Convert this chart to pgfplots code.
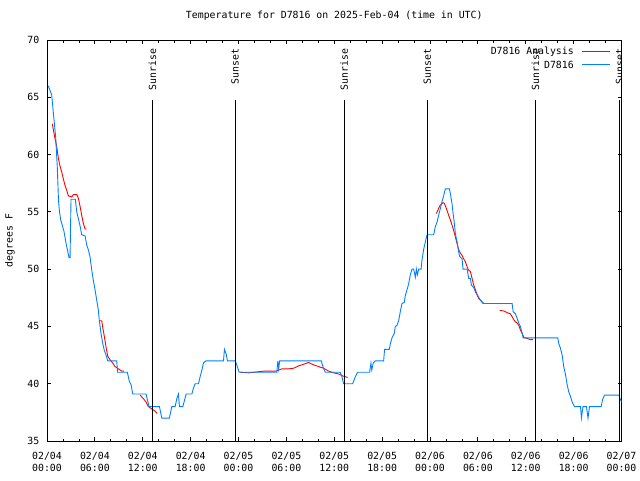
\documentclass[border=0pt]{standalone}
\usepackage{fontspec}
\setmainfont{DejaVu Sans Mono}
\usepackage{pgfplots}
\pgfplotsset{compat=1.18}
\newcommand\gfont{\fontsize{9.85}{12.5}\selectfont}
\definecolor{obsblue}{RGB}{0,128,255}

\begin{document}
\begin{tikzpicture}
  \begin{axis}[
      at={(0,0)}, anchor=south west,
      scale only axis, width=574.5pt, height=401pt,
      xmin=0, xmax=72, ymin=35, ymax=70,
      xtick={0,6,...,72}, minor x tick num=2,
      xticklabels={{02/04\\00:00},{02/04\\06:00},{02/04\\12:00},{02/04\\18:00},
        {02/05\\00:00},{02/05\\06:00},{02/05\\12:00},{02/05\\18:00},
        {02/06\\00:00},{02/06\\06:00},{02/06\\12:00},{02/06\\18:00},{02/07\\00:00}},
      ytick={35,40,...,70},
      /pgf/number format/assume math mode=true,
      tick align=inside, major tick length=4pt, minor tick length=2.5pt,
      every tick/.style={black, line width=0.8pt},
      axis line style={line width=0.8pt},
      xticklabel style={align=center, anchor=north, inner sep=0pt, yshift=-10.5pt, font=\gfont},
      yticklabel style={anchor=east, inner sep=0pt, xshift=-7.5pt, font=\gfont},
      title={Temperature for D7816 on 2025-Feb-04 (time in UTC)},
      title style={at={(0.5,1)}, anchor=base, inner sep=0pt, yshift=16pt, font=\gfont},
      ylabel={degrees F},
      ylabel style={at={(axis description cs:-0.0645,0.5)}, anchor=center, inner sep=0pt, font=\gfont},
      unbounded coords=jump,
    ]
    % analysis
    \addplot[draw=red, line width=0.9pt] coordinates {
      (0.66,62.7) (1.00,61.4) (1.22,60.7) (1.42,59.7) (1.63,59.0) (1.84,58.5)
      (2.04,57.9) (2.26,57.3) (2.47,56.9) (2.67,56.4) (3.10,56.3) (3.30,56.5)
      (3.73,56.5) (3.93,56.2) (4.14,55.5) (4.35,54.7) (4.55,54.0) (4.77,53.5)
      (4.98,53.5) (5.5,nan)
      (6.56,45.5) (6.86,45.5) (6.99,44.9) (7.19,44.1) (7.40,43.2) (7.61,42.4)
      (7.90,42.1) (8.24,41.8) (8.53,41.5) (8.94,41.3) (9.37,41.1) (9.66,41.1)
      (10.5,nan)
      (11.67,39.0) (12.08,38.7) (12.42,38.4) (12.71,38.0) (13.13,37.8) (13.55,37.6)
      (13.80,37.4) (18,nan)
      (24.21,41.0) (25.25,40.95) (27.22,41.1) (28.73,41.1) (29.44,41.3) (30.27,41.3)
      (30.90,41.35) (31.52,41.55) (32.15,41.7) (32.78,41.85) (33.40,41.65) (34.03,41.5)
      (34.66,41.35) (35.29,41.1) (35.91,40.95) (36.54,40.85) (37.17,40.65) (37.67,40.55)
      (42,nan)
      (48.80,54.85) (49.08,55.3) (49.30,55.6) (49.64,55.8) (49.80,55.75) (50.05,55.3)
      (50.34,54.7) (50.55,54.3) (50.76,53.85) (50.96,53.4) (51.18,52.8) (51.39,52.25)
      (51.59,51.7) (51.81,51.4) (52.02,51.2) (52.22,50.9) (52.43,50.65) (52.65,50.2)
      (52.85,49.9) (53.06,49.8) (53.27,49.2) (53.48,48.6) (53.69,48.2) (53.90,47.75)
      (54.10,47.45) (54.31,47.3) (54.52,47.15) (54.73,47.0) (55.5,nan)
      (56.74,46.4) (57.24,46.35) (57.67,46.2) (58.08,46.1) (58.29,45.85) (58.49,45.6)
      (58.71,45.4) (58.92,45.3) (59.12,45.1) (59.33,44.7) (59.55,44.4) (59.75,44.05)
      (60.17,43.95) (60.59,43.85) (60.93,43.85)
    };
    % observations
    \addplot[draw=obsblue, line width=0.9pt] coordinates {
      (0.16,66.0) (0.59,65.2) (0.79,63.7) (1.09,61.5) (1.29,58.9) (1.44,56.0)
      (1.57,55.0) (1.72,54.3) (1.92,53.8) (2.13,53.3) (2.35,52.4) (2.55,51.7)
      (2.76,51.0) (2.89,51.0) (3.01,56.1) (3.55,56.1) (3.73,55.0) (3.93,54.4)
      (4.14,53.8) (4.35,53.0) (4.77,52.9) (4.98,52.1) (5.18,51.7) (5.39,51.1)
      (5.61,49.9) (5.81,49.0) (6.02,48.2) (6.23,47.3) (6.44,46.4) (6.56,45.5)
      (6.77,44.4) (6.99,43.5) (7.19,42.9) (7.40,42.5) (7.61,42.0) (8.74,42.0)
      (8.84,41.0) (10.07,41.0) (10.32,40.2) (10.54,39.9) (10.75,39.1) (12.42,39.1)
      (12.58,38.6) (12.79,38.0) (14.09,38.0) (14.39,37.0) (15.34,37.0) (15.64,38.0)
      (16.06,38.0) (16.27,38.7) (16.47,39.1) (16.60,38.0) (17.02,38.0) (17.44,39.1)
      (18.15,39.1) (18.35,39.6) (18.56,40.0) (18.98,40.0) (19.19,40.6) (19.41,41.2)
      (19.61,41.8) (19.91,42.0) (22.12,42.0) (22.24,43.0) (22.45,42.6) (22.62,42.0)
      (23.58,42.0) (23.80,41.6) (24.08,41.0) (28.81,41.0) (28.93,42.0) (29.03,41.3)
      (29.16,42.0) (34.37,42.0) (34.58,41.5) (34.87,41.0) (36.75,41.0) (36.97,40.6)
      (37.17,40.0) (38.31,40.0) (38.63,40.6) (38.92,41.0) (40.43,41.0) (40.60,41.8)
      (40.70,41.2) (40.89,41.8) (41.14,42.0) (42.19,42.0) (42.31,43.0) (42.90,43.0)
      (43.03,43.5) (43.24,44.0) (43.53,44.4) (43.65,45.0) (43.87,45.1) (44.07,45.5)
      (44.28,46.3) (44.49,47.0) (44.78,47.1) (44.91,47.7) (45.12,48.2) (45.32,48.7)
      (45.53,49.5) (45.75,50.0) (45.95,50.0) (46.16,49.3) (46.29,50.0) (46.41,49.5)
      (46.58,50.0) (46.88,50.0) (47.00,50.8) (47.20,51.7) (47.42,52.4) (47.63,53.0)
      (48.46,53.0) (48.67,53.7) (48.88,54.1) (49.08,54.7) (49.30,55.3) (49.51,55.9)
      (49.71,56.4) (49.92,57.0) (50.43,57.0) (50.55,56.6) (50.76,55.7) (50.89,54.9)
      (51.05,54.0) (51.18,53.1) (51.39,52.4) (51.59,51.5) (51.72,51.1) (52.02,50.9)
      (52.14,50.0) (52.65,50.0) (52.85,49.2) (53.06,49.2) (53.19,48.6) (53.48,48.4)
      (53.69,48.0) (53.98,47.7) (54.31,47.3) (54.65,47.0) (58.29,47.0) (58.42,46.3)
      (58.71,46.1) (58.92,45.7) (59.12,45.3) (59.33,45.0) (59.55,44.4) (59.67,44.0)
      (64.01,44.0) (64.14,43.5) (64.35,43.1) (64.56,42.5) (64.76,41.5) (64.98,40.8)
      (65.19,39.9) (65.39,39.3) (65.60,38.9) (65.82,38.4) (66.11,38.0) (66.86,38.0)
      (66.98,37.0) (67.17,38.0) (67.61,38.0) (67.80,37.0) (67.99,38.0) (69.45,38.0)
      (69.62,38.6) (69.87,39.0) (71.66,39.0) (71.88,38.6) (72.0,38.4)
    };
    % sunrise / sunset markers
    \addplot[black, line width=0.8pt] coordinates {(13.23,35) (13.23,64.8)};
    \addplot[black, line width=0.8pt] coordinates {(23.58,35) (23.58,64.8)};
    \addplot[black, line width=0.8pt] coordinates {(37.25,35) (37.25,64.8)};
    \addplot[black, line width=0.8pt] coordinates {(47.67,35) (47.67,64.8)};
    \addplot[black, line width=0.8pt] coordinates {(61.21,35) (61.21,64.8)};
    \addplot[black, line width=0.8pt] coordinates {(71.75,35) (71.75,64.8)};
    \node[rotate=90, anchor=east, inner sep=0pt, font=\gfont] at (axis cs:13.23,69.25) {Sunrise};
    \node[rotate=90, anchor=east, inner sep=0pt, font=\gfont] at (axis cs:23.58,69.25) {Sunset};
    \node[rotate=90, anchor=east, inner sep=0pt, font=\gfont] at (axis cs:37.25,69.25) {Sunrise};
    \node[rotate=90, anchor=east, inner sep=0pt, font=\gfont] at (axis cs:47.67,69.25) {Sunset};
    \node[rotate=90, anchor=east, inner sep=0pt, font=\gfont] at (axis cs:61.21,69.25) {Sunrise};
    \node[rotate=90, anchor=east, inner sep=0pt, font=\gfont] at (axis cs:71.75,69.25) {Sunset};
    % key
    \node[anchor=east, inner sep=0pt, font=\gfont] at (axis description cs:0.9173,0.971) {D7816 Analysis};
    \node[anchor=east, inner sep=0pt, font=\gfont] at (axis description cs:0.9173,0.939) {D7816};
    \draw[red, line width=0.9pt] (axis description cs:0.9311,0.972) -- (axis description cs:0.98,0.972);
    \draw[obsblue, line width=0.9pt] (axis description cs:0.9311,0.940) -- (axis description cs:0.98,0.940);
  \end{axis}
  \pgfresetboundingbox
  \path (-47pt,-39pt) rectangle (593pt,441pt);
\end{tikzpicture}
\end{document}
